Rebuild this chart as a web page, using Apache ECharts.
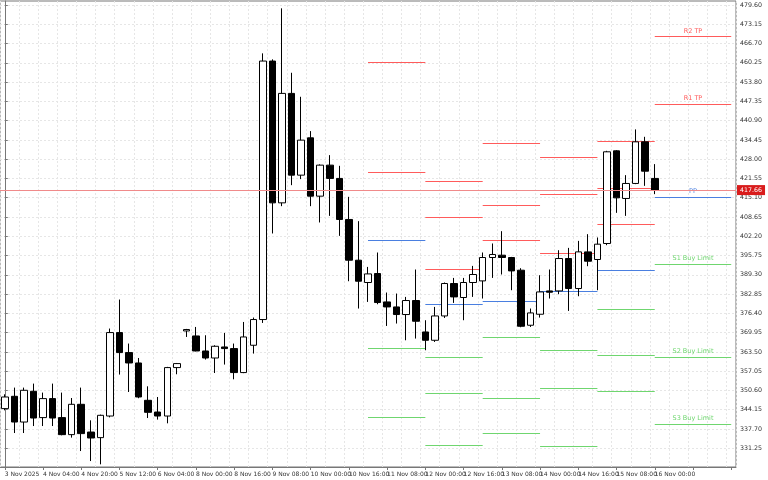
<!DOCTYPE html>
<html><head><meta charset="utf-8">
<script src="https://cdn.jsdelivr.net/npm/echarts@6/dist/echarts.min.js"></script>
<style>html,body{margin:0;padding:0;background:#fff}#c{width:768px;height:480px}</style>
</head><body><div id="c"></div>
<script>
// candles: [open, close, low, high]
const candles = [
[344.53,348.42,343.96,349.32],[348.65,340.04,336.36,351.56],[340.04,350.66,336.36,351.56],[350.33,341.38,338.70,352.90],
[341.52,347.88,338.70,349.89],[347.88,341.38,338.70,352.90],[341.52,335.82,335.59,349.89],[335.82,345.97,334.82,348.08],
[345.97,336.16,330.33,351.56],[336.69,334.69,326.98,340.61],[334.82,342.29,325.88,342.52],[342.05,369.98,341.60,371.32],
[369.98,363.28,355.92,381.03],[363.28,359.80,350.09,366.30],[359.80,348.42,348.00,361.47],[347.31,343.29,341.38,351.99],
[343.39,342.05,340.85,348.42],[342.05,358.26,339.61,358.50],[358.26,359.60,356.02,359.80],[370.52,370.99,368.51,371.20],
[368.85,363.82,363.70,371.86],[363.82,361.47,360.94,369.08],[361.47,365.39,356.45,365.73],[365.16,364.62,359.27,369.85],
[364.62,356.59,354.34,366.30],[356.59,368.51,356.40,373.53],[365.73,374.34,362.95,375.01],[374.34,460.84,373.20,463.42],
[460.84,413.39,403.14,461.41],[413.39,450.02,412.28,478.49],[450.02,422.66,419.31,456.92],[422.66,434.38,421.33,448.89],
[435.15,415.63,412.28,437.40],[415.63,426.01,406.82,426.25],[426.01,421.56,409.03,429.36],[421.56,407.83,402.34,425.78],
[407.83,394.20,387.16,415.40],[394.20,387.16,378.02,407.26],[386.73,389.61,380.23,391.95],[389.74,380.03,379.46,396.77],
[380.23,378.56,372.19,383.38],[378.56,376.01,373.00,383.04],[376.01,380.70,367.40,381.91],[380.70,373.77,367.97,391.08],
[370.18,367.40,364.06,374.11],[367.40,375.54,366.84,378.56],[375.54,386.39,374.87,386.73],[386.39,381.91,379.90,388.27],
[381.71,386.73,374.11,388.27],[386.73,389.41,381.91,392.29],[387.27,395.10,381.37,396.77],[395.10,396.11,388.27,399.79],
[395.87,395.10,389.41,403.91],[395.10,390.61,384.15,395.30],[390.85,372.09,371.76,391.52],[372.43,376.55,371.86,378.02],
[376.11,383.58,375.00,389.17],[383.92,383.48,381.37,391.08],[383.92,394.76,382.81,397.54],[394.76,384.72,377.22,398.32],
[384.72,396.98,382.14,400.66],[396.98,393.86,392.19,402.91],[394.43,399.56,384.15,401.80],[399.79,430.47,399.22,430.80],
[430.80,415.06,410.04,431.04],[414.86,419.88,409.03,422.66],[419.88,433.81,419.65,437.97],[433.81,423.99,419.08,435.49],
[421.56,417.66,416.30,426.35]
];
const totalSlots = 77;
const tickLabels = ["3 Nov 2025","4 Nov 04:00","4 Nov 20:00","5 Nov 12:00","6 Nov 04:00","8 Nov 00:00","8 Nov 16:00","9 Nov 08:00","10 Nov 00:00","10 Nov 16:00","11 Nov 08:00","12 Nov 00:00","12 Nov 16:00","13 Nov 08:00","14 Nov 00:00","14 Nov 16:00","15 Nov 08:00","16 Nov 00:00"];
const yTicks = [331.25,337.70,344.15,350.60,357.05,363.50,369.95,376.40,382.85,389.30,395.75,402.20,408.65,415.10,421.55,428.00,434.45,440.90,447.35,453.80,460.25,466.70,473.15,479.60];
const currentPrice = 417.66;
// daily pivot segments: [startIdx, endIdx, value]
const redLevels = [[38,44,460.41],[38,44,423.83],[44,50,420.55],[44,50,408.70],[44,50,391.18],[50,56,433.28],[50,56,412.72],[50,56,401.00],[56,62,428.79],[56,62,416.30],[56,62,396.64],[62,68,434.05],[62,68,418.21],[62,68,406.25]];
const blueLevels = [[38,44,400.89],[44,50,379.46],[50,56,380.57],[56,62,384.05],[62,68,390.85]];
const greenLevels = [[38,44,364.72],[38,44,341.62],[44,50,361.94],[44,50,349.89],[44,50,332.48],[50,56,368.64],[50,56,348.21],[50,56,336.49],[56,62,364.16],[56,62,351.56],[56,62,331.91],[62,68,378.02],[62,68,362.61],[62,68,350.56]];
// current-day labelled levels: [startIdx, endIdx, value, label, kind]
const namedLevels = [[68,76,469.11,"R2 TP","r"],[68,76,446.44,"R1 TP","r"],[68,76,415.40,"PP","b"],[68,76,392.86,"S1 Buy Limit","g"],[68,76,361.94,"S2 Buy Limit","g"],[68,76,339.37,"S3 Buy Limit","g"]];

const COL = {r:'#ff5b5b', b:'#4a7fe0', g:'#6fd66f'};
const cats = Array.from({length: totalSlots}, (_, i) => 'c' + i);

function segSeries(data, color, withLabel) {
  return {
    type: 'custom', xAxisIndex: 0, yAxisIndex: 0, silent: true, z: withLabel ? 4 : 1,
    data: data,
    renderItem: function (params, api) {
      const a = api.coord([api.value(0), api.value(2)]);
      const b = api.coord([api.value(1), api.value(2)]);
      const idx = params.dataIndex;
      const c = withLabel ? COL[data[idx][4]] : color;
      const children = [{type:'line', shape:{x1:a[0],y1:Math.round(a[1])+0.5,x2:b[0],y2:Math.round(a[1])+0.5}, style:{stroke:c, lineWidth:1}}];
      if (withLabel) {
        children.push({type:'text', style:{text:data[idx][3], x:(a[0]+b[0])/2, y:a[1]-2, fill:c, font:'6.5px "DejaVu Sans"', textAlign:'center', textVerticalAlign:'bottom'}});
      }
      return {type:'group', children: children};
    }
  };
}

const chart = echarts.init(document.getElementById('c'));
chart.setOption({
  animation: false,
  backgroundColor: '#fff',
  grid: {left: -4, right: 32, top: 1, bottom: 13, show: true, borderColor: '#777', borderWidth: 1},
  xAxis: [{
    type: 'category', data: cats, boundaryGap: true,
    axisLine: {lineStyle: {color: '#777'}},
    axisTick: {show: true, alignWithLabel: true, interval: 3, length: 3, lineStyle:{color:'#777'}},
    axisLabel: {interval: 3, align: 'left', margin: 4, fontSize: 6, color: '#333', fontFamily: 'DejaVu Sans',
      showMinLabel: true, hideOverlap: false,
      formatter: function (v, i) { return tickLabels[i / 4] || ''; }},
    splitLine: {show: false}
  }, {
    type: 'value', min: -0.5, max: totalSlots - 0.5, interval: 2, show: true, position: 'bottom',
    axisLine: {show: false}, axisTick: {show: false}, axisLabel: {show: false},
    splitLine: {show: true, lineStyle: {color: '#e6e6e6', type: [2, 2]}}
  }],
  yAxis: {
    type: 'value', position: 'right', min: 324.99, max: 480.94, scale: true,
    axisLine: {show: true, lineStyle: {color: '#777'}},
    axisTick: {show: true, length: 3, customValues: yTicks, lineStyle:{color:'#777'}},
    axisLabel: {customValues: yTicks, fontSize: 6.3, color: '#333', margin: 4, fontFamily: 'DejaVu Sans',
      formatter: v => v.toFixed(2)},
    splitLine: {show: true, lineStyle: {color: '#e6e6e6', type: [2, 2]}}
  },
  series: [
    segSeries(redLevels, COL.r, false),
    segSeries(blueLevels, COL.b, false),
    segSeries(greenLevels, COL.g, false),
    segSeries(namedLevels, null, true),
    {
      type: 'candlestick', data: candles, barWidth: 7, z: 3,
      itemStyle: {color: '#fff', color0: '#000', borderColor: '#000', borderColor0: '#000', borderWidth: 1},
      markLine: {
        silent: true, symbol: 'none',
        lineStyle: {color: '#f08a8a', width: 1, type: 'solid'},
        label: {position: 'end', formatter: () => currentPrice.toFixed(2), backgroundColor: '#d91c1c', color: '#fff',
          fontSize: 6.3, padding: [2, 3], distance: 1, fontFamily: 'DejaVu Sans'},
        data: [{yAxis: currentPrice}]
      }
    }
  ]
});
</script></body></html>
